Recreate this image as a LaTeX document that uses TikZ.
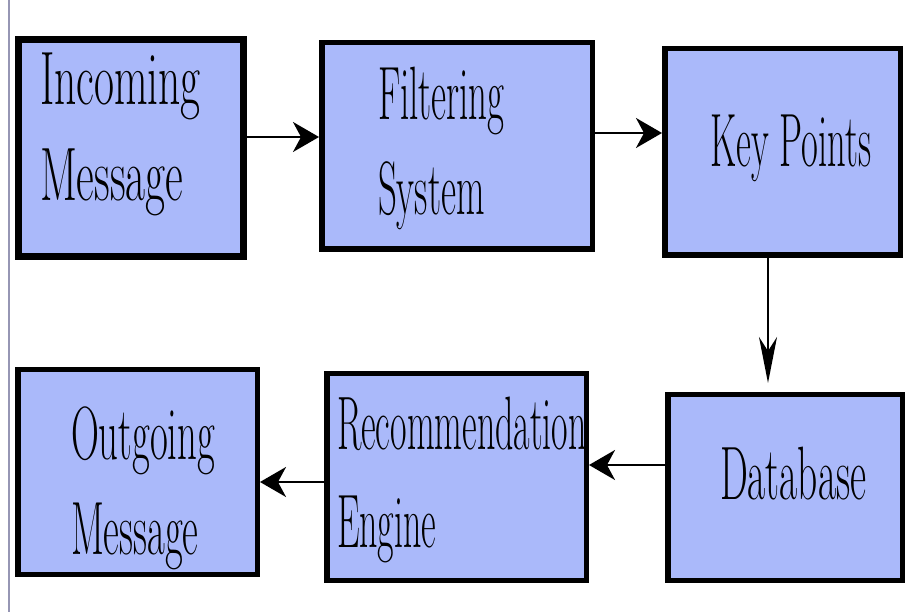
\documentclass[tikz,border=0pt]{standalone}
\usetikzlibrary{arrows.meta}
\definecolor{boxfill}{RGB}{170,185,250}
\definecolor{edgeline}{RGB}{150,150,180}
\newcommand{\boxtext}[4]{\scalebox{1}[#2]{\fontsize{#1}{#3}\selectfont\begin{tabular}[t]{@{}l@{}}#4\end{tabular}}}
\begin{document}
\begin{tikzpicture}[x=1pt,y=-1pt,
  box/.style={draw=black, fill=boxfill, line width=5.5pt, rectangle, inner sep=0pt},
  lbl/.style={anchor=base west, inner sep=0pt, outer sep=0pt, text=black},
  flow/.style={line width=2pt, -{Stealth[length=26pt,width=30pt,inset=8pt]}},
  flowv/.style={line width=2pt, -{Stealth[length=46pt,width=18pt,inset=14pt]}}]
\useasboundingbox (0,0) rectangle (906,612);
\draw[edgeline, line width=1.2pt] (9,0) -- (9,612);
% boxes
\node[box, line width=7pt, minimum width=225pt, minimum height=217pt] (in) at (131,148) {};
\node[box, minimum width=270.5pt, minimum height=206.5pt] (filt) at (457,146) {};
\node[box, minimum width=235.5pt, minimum height=206.5pt] (key) at (782.5,152) {};
\node[box, minimum width=234.5pt, minimum height=185.5pt] (db) at (785,487.5) {};
\node[box, minimum width=259.5pt, minimum height=206.5pt] (rec) at (456.5,477) {};
\node[box, minimum width=239.5pt, minimum height=204.5pt] (out) at (137.5,472) {};
% labels
\node[lbl] (tin) at (40,105) {\boxtext{43.5}{1.74}{54.6}{Incoming\\Message}};
\node[lbl] (tfilt) at (378,120) {\boxtext{36.9}{2.05}{46.3}{Filtering\\System}};
\node[lbl] (tkey) at (710,167) {\boxtext{36.5}{2.07}{46}{Key Points}};
\node[lbl] (tdb) at (720,500) {\boxtext{39.4}{1.92}{46}{Database}};
\node[lbl] (trec) at (337,450) {\boxtext{35.9}{2.11}{46}{Recommendation\\Engine}};
\node[lbl] (tout) at (71,460) {\boxtext{38.7}{1.95}{48.7}{Outgoing\\Message}};
% connectors
\draw[flow] ([yshift=11pt]in.east) -- ([yshift=9pt]filt.west);
\draw[flow] ([yshift=13pt]filt.east) -- ([yshift=19pt]key.west);
\draw[flowv, shorten >=9pt] ([xshift=-14.5pt]key.south) -- ([xshift=-17pt]db.north);
\draw[flow] ([yshift=22.5pt]db.west) -- ([yshift=12pt]rec.east);
\draw[flow] ([yshift=-5pt]rec.west) -- ([yshift=-10pt]out.east);
\end{tikzpicture}
\end{document}
